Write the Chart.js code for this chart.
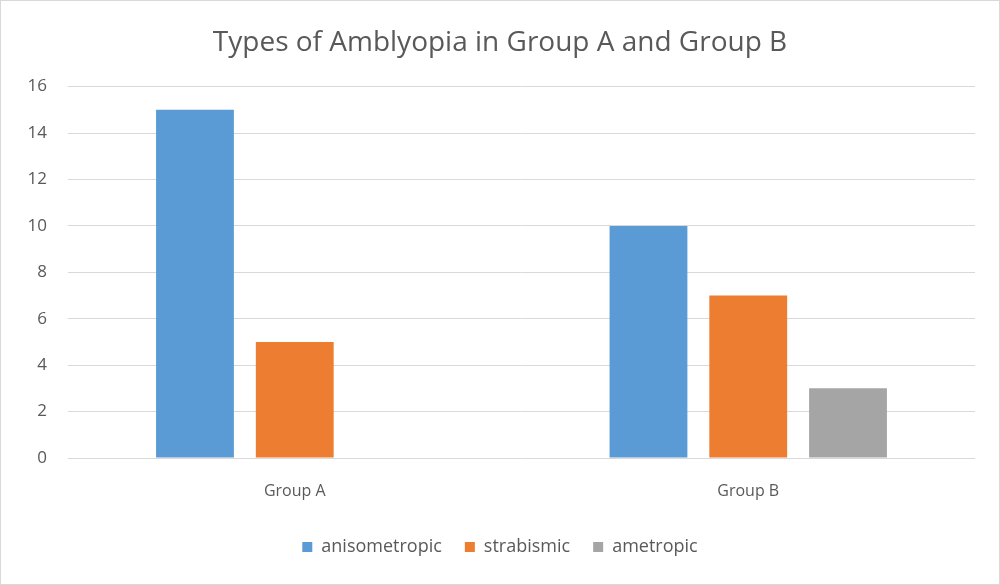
<!DOCTYPE html>
<html>
<head>
<meta charset="utf-8">
<script src="https://cdn.jsdelivr.net/npm/chart.js@4"></script>
<style>
  html, body { margin: 0; padding: 0; background: #fff; }
  #wrap { position: relative; width: 1000px; height: 585px; box-sizing: border-box; border: 1px solid #d9d9d9; }
</style>
</head>
<body>
<div id="wrap"><canvas id="amblyopia-chart"></canvas></div>
<script>
// Chart data
var groups = ["Group A", "Group B"];
var anisometropic = [15, 10];
var strabismic = [5, 7];
var ametropic = [0, 3];
var yTicks = [0, 2, 4, 6, 8, 10, 12, 14, 16];

var textColor = "#595959";
var fontFamily = "'Open Sans', 'Noto Sans', sans-serif";

var ctx = document.getElementById("amblyopia-chart");

var chartData = {
    labels: groups,
    datasets: [
        { label: "anisometropic", data: anisometropic, backgroundColor: "#5B9BD5" },
        { label: "strabismic", data: strabismic, backgroundColor: "#ED7D31" },
        { label: "ametropic", data: ametropic, backgroundColor: "#A5A5A5" }
    ]
};

var chartOptions = {
    responsive: true,
    maintainAspectRatio: false,
    animation: false,
    datasets: { bar: { categoryPercentage: 0.66, barPercentage: 0.78 } },
    // left padding keeps title/legend centred like the original
    layout: { padding: { top: 18, right: 24, bottom: 18, left: 24 } },
    plugins: {
        title: {
            display: true,
            text: "Types of Amblyopia in Group A and Group B",
            color: textColor,
            font: { family: fontFamily, size: 28, weight: "normal" },
            padding: { top: 7, bottom: 27 }
        },
        legend: {
            position: "bottom",
            labels: {
                color: textColor,
                font: { family: fontFamily, size: 18 },
                boxWidth: 10,
                boxHeight: 10,
                padding: 23
            }
        },
        tooltip: { enabled: false }
    },
    scales: {
        x: {
            grid: { display: false },
            border: { display: false },
            ticks: { color: textColor, font: { family: fontFamily, size: 16 }, padding: 16 },
            afterFit: function (scale) { scale.height = 57; }
        },
        y: {
            min: 0,
            max: 16,
            afterBuildTicks: function (scale) {
                scale.ticks = yTicks.map(function (v) { return { value: v }; });
            },
            grid: { color: "#d9d9d9", drawTicks: false },
            border: { display: false },
            ticks: { color: textColor, font: { family: fontFamily, size: 17 }, padding: 21 },
            afterFit: function (scale) { scale.width = 43; }
        }
    }
};

var config = {
    type: "bar",
    data: chartData,
    options: chartOptions
};

var amblyopiaChart = new Chart(ctx, config);
</script>
</body>
</html>
